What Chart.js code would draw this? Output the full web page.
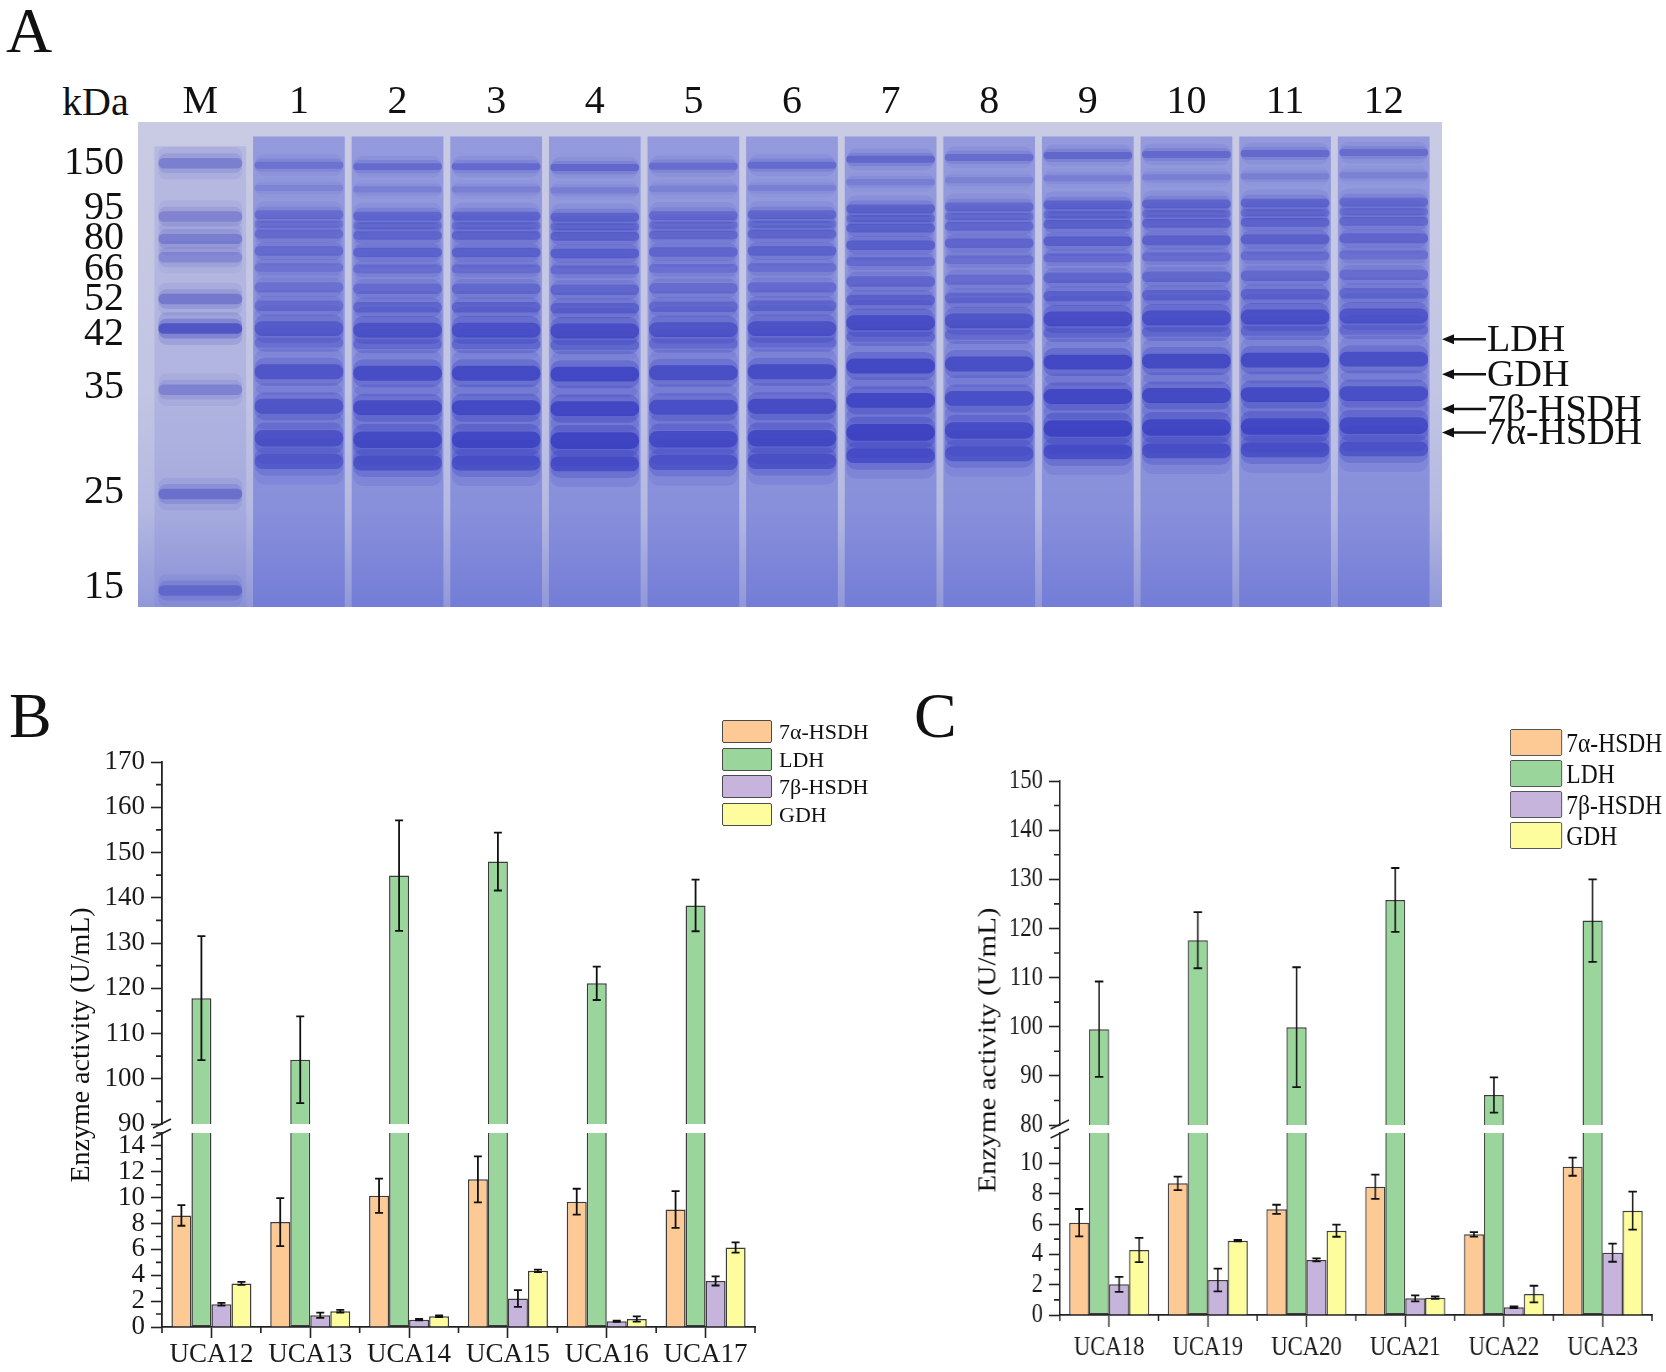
<!DOCTYPE html>
<html>
<head>
<meta charset="utf-8">
<script src="https://cdn.jsdelivr.net/npm/chart.js@4.4.1/dist/chart.umd.min.js"></script>
<style>
  html, body { margin: 0; padding: 0; background: #fff; }
  body { width: 1666px; height: 1372px; position: relative; overflow: hidden;
         font-family: 'Liberation Serif', 'Times New Roman', serif; color: #111; }
  .abs { position: absolute; white-space: nowrap; }
  .letter { font-size: 64px; line-height: 64px; }
  .ytitle { width: 420px; height: 34px; line-height: 34px; text-align: center; transform: rotate(-90deg); }
</style>
</head>
<body>
<div class="abs letter" style="left:6px; top:-1px;">A</div>
<div class="abs" style="left:62px; top:82px; font-size:40px; line-height:40px;">kDa</div>
<div class="abs" style="left:0; top:0; width:1666px; height:650px;"><canvas id="gel" width="1666" height="650"></canvas></div>

<div class="abs letter" style="left:9px; top:684px;">B</div>
<div class="abs" style="left:0; top:680px; width:830px; height:692px;"><canvas id="chartB" width="830" height="692"></canvas></div>
<div class="abs ytitle" style="left:-130px; top:1028px; font-size:28px;">Enzyme activity (U/mL)</div>
<div id="legendB" class="abs" style="left:0; top:0;"></div>

<div class="abs letter" style="left:914px; top:684px;">C</div>
<div class="abs" style="left:880px; top:680px; width:936px; height:692px; transform:scaleX(0.84); transform-origin:0 0;">
  <canvas id="chartC" width="936" height="692"></canvas>
  <div class="abs ytitle" style="left:-83px; top:353px; font-size:29px;">Enzyme activity (U/mL)</div>
  <div id="legendC" class="abs" style="left:0; top:0;"></div>
</div>

<script>
var serif = "'Liberation Serif', 'Times New Roman', serif";

// ---- panel A : SDS-PAGE gel (migration in % of gel length, 0 = top) ----
var lanes = ['M', '1', '2', '3', '4', '5', '6', '7', '8', '9', '10', '11', '12'];
var markerKda = [150, 95, 80, 66, 52, 42, 35, 25, 15];
var markerPos = [8.5, 19.5, 24.1, 27.9, 36.5, 42.6, 55.2, 76.7, 96.6];
var markerInt = [0.45, 0.4, 0.45, 0.35, 0.5, 0.9, 0.4, 0.55, 0.5];
var kdaLabelPos = [8.5, 17.8, 24.1, 30.4, 36.7, 43.8, 54.8, 76.3, 96.0];
var bandPos = [8.9, 13.6, 19.1, 21.1, 23.1, 26.6, 30.0, 34.1, 37.9, 42.6, 45.5, 51.5, 58.6, 65.2, 70.0];
var bandInt = [0.5, 0.25, 0.55, 0.4, 0.55, 0.6, 0.45, 0.5, 0.55, 0.85, 0.4, 0.95, 0.95, 1.0, 0.8];
var bandThk = [1.6, 1.4, 2.0, 1.6, 2.0, 2.2, 2.0, 2.4, 2.4, 3.4, 2.2, 3.4, 3.4, 3.8, 3.4];
var laneShift = [0, 0, 0.3, 0.3, 0.5, 0.2, 0, -1.2, -1.6, -2.0, -2.2, -2.4, -2.6];
var laneLoad = [1, 0.8, 0.95, 1, 1.05, 0.9, 0.95, 1.05, 0.9, 1.05, 1, 1, 0.9];
var laneSmear = [5, 3, 3, 3, 3, 3, 3, 3, 3, 3, 3, 3, 3];
var targets = ['LDH', 'GDH', '7β-HSDH', '7α-HSDH'];
var targetPos = [44.8, 52.0, 59.2, 64.0];

// ---- panels B and C : enzyme activity ----
var series = ['7α-HSDH', 'LDH', '7β-HSDH', 'GDH'];
var seriesFill = ['#fdca96', '#9ad69c', '#c7b4dd', '#fdfd9e'];

var groupsB = ['UCA12', 'UCA13', 'UCA14', 'UCA15', 'UCA16', 'UCA17'];
var alphaB = [8.63, 8.11, 10.15, 11.42, 9.69, 9.09];
var alphaErrB = [0.8, 1.85, 1.33, 1.78, 1.0, 1.42];
var ldhB = [117.8, 104.2, 144.9, 148.0, 121.1, 138.3];
var ldhErrB = [13.7, 9.6, 12.2, 6.4, 3.7, 5.7];
var betaB = [1.76, 0.91, 0.57, 2.2, 0.44, 3.56];
var betaErrB = [0.1, 0.2, 0.06, 0.65, 0.05, 0.35];
var gdhB = [3.37, 1.22, 0.83, 4.34, 0.62, 6.15];
var gdhErrB = [0.12, 0.1, 0.07, 0.1, 0.2, 0.4];
var upRangeB = [90, 170];
var lowRangeB = [0, 15];

var groupsC = ['UCA18', 'UCA19', 'UCA20', 'UCA21', 'UCA22', 'UCA23'];
var alphaC = [6.09, 8.68, 6.97, 8.46, 5.32, 9.78];
var alphaErrC = [0.9, 0.45, 0.3, 0.8, 0.15, 0.6];
var ldhC = [99.5, 117.6, 99.9, 125.8, 86.1, 121.6];
var ldhErrC = [9.7, 5.7, 12.2, 6.5, 3.6, 8.4];
var betaC = [2.02, 2.31, 3.63, 1.10, 0.51, 4.11];
var betaErrC = [0.5, 0.75, 0.1, 0.2, 0.05, 0.6];
var gdhC = [4.29, 4.90, 5.56, 1.14, 1.38, 6.88];
var gdhErrC = [0.8, 0.05, 0.4, 0.08, 0.55, 1.25];
var upRangeC = [80, 150];
var lowRangeC = [0, 12];

// ---------------- gel ----------------
var gelDatasets = [];
gelDatasets.push({
    data: lanes.map(function (l, i) { return [laneSmear[i], 100]; }),
    backgroundColor: lanes.map(function (l, i) { return i === 0 ? 'rgba(120,125,215,0.22)' : 'rgba(80,90,212,0.44)'; }),
    barPercentage: 0.93, categoryPercentage: 1, grouped: false
});
// soft halo, mid layer, dense core of every band
[[2.8, 0.16], [1.7, 0.3], [0.9, 0.66]].forEach(function (layer) {
    markerPos.forEach(function (p, b) {
        var h = 1.2 * layer[0];
        gelDatasets.push({
            data: lanes.map(function (l, i) { return i === 0 ? [p - h, p + h] : null; }),
            backgroundColor: 'rgba(30,35,180,' + (markerInt[b] * layer[1]).toFixed(3) + ')',
            barPercentage: 0.85, categoryPercentage: 1, grouped: false, borderRadius: 8, borderSkipped: false
        });
    });
    bandPos.forEach(function (p, b) {
        var h = bandThk[b] * layer[0] / 2;
        gelDatasets.push({
            data: lanes.map(function (l, i) { return i === 0 ? null : [p + laneShift[i] - h, p + laneShift[i] + h]; }),
            backgroundColor: lanes.map(function (l, i) {
                return 'rgba(22,24,172,' + Math.min(1, bandInt[b] * laneLoad[i] * layer[1]).toFixed(3) + ')';
            }),
            barPercentage: 0.9, categoryPercentage: 1, grouped: false, borderRadius: 10, borderSkipped: false
        });
    });
});

var gelEdge = [13, 9];
var gelDecor = {
    id: 'gelDecor',
    beforeDatasetsDraw: function (chart) {
        var ctx = chart.ctx, a = chart.chartArea;
        var g = ctx.createLinearGradient(0, a.top, 0, a.bottom);
        g.addColorStop(0, '#c9cbe3');
        g.addColorStop(0.55, '#c2c5e3');
        g.addColorStop(0.8, '#b4b9e1');
        g.addColorStop(1, '#9198d9');
        ctx.fillStyle = g;
        ctx.fillRect(a.left - gelEdge[0], a.top, a.right - a.left + gelEdge[0] + gelEdge[1], a.bottom - a.top);
    },
    afterDatasetsDraw: function (chart) {
        var ctx = chart.ctx, a = chart.chartArea, y = chart.scales.y;
        var x0 = a.right + gelEdge[1];
        ctx.save();
        ctx.strokeStyle = '#111';
        ctx.fillStyle = '#111';
        ctx.lineWidth = 2.5;
        ctx.font = '38px ' + serif;
        ctx.textBaseline = 'middle';
        targets.forEach(function (t, i) {
            var py = y.getPixelForValue(targetPos[i]);
            ctx.beginPath();
            ctx.moveTo(x0 + 8, py);
            ctx.lineTo(x0 + 44, py);
            ctx.stroke();
            ctx.beginPath();
            ctx.moveTo(x0, py);
            ctx.lineTo(x0 + 12, py - 5);
            ctx.lineTo(x0 + 12, py + 5);
            ctx.closePath();
            ctx.fill();
            ctx.fillText(t, x0 + 45, py + 2);
        });
        ctx.restore();
    }
};

new Chart(document.getElementById('gel'), {
    type: 'bar',
    data: { labels: lanes, datasets: gelDatasets },
    options: {
        responsive: false, animation: false, events: [],
        layout: { padding: { left: 0, right: 233, top: 0, bottom: 35 } },
        plugins: { legend: { display: false }, tooltip: { enabled: false } },
        scales: {
            x: {
                position: 'top', offset: true,
                grid: { display: false }, border: { display: false },
                ticks: { font: { family: serif, size: 40, lineHeight: 0.58 }, color: '#111', padding: 0, autoSkip: false, maxRotation: 0 },
                afterFit: function (s) { s.height = 122; }
            },
            y: {
                reverse: true, min: 0, max: 100, stacked: false,
                grid: { display: false }, border: { display: false },
                afterBuildTicks: function (s) { s.ticks = kdaLabelPos.map(function (v) { return { value: v }; }); },
                ticks: {
                    autoSkip: false, font: { family: serif, size: 40 }, color: '#111', padding: 19,
                    callback: function (v, i) { return markerKda[i]; }
                },
                afterFit: function (s) { s.width = 151; }
            }
        }
    },
    plugins: [gelDecor]
});

// ---------------- broken-axis bar charts ----------------
var errorBars = {
    id: 'errorBars',
    afterDatasetsDraw: function (chart, args, o) {
        var ctx = chart.ctx;
        ctx.save();
        ctx.strokeStyle = '#111';
        ctx.lineWidth = 1.8;
        chart.data.datasets.forEach(function (ds, i) {
            if (!ds.errs) return;
            var meta = chart.getDatasetMeta(i);
            var sc = chart.scales[ds.yAxisID];
            meta.data.forEach(function (bar, j) {
                var v = ds.vals[j], e = ds.errs[j];
                var y1 = sc.getPixelForValue(v + e), y2 = sc.getPixelForValue(Math.max(v - e, sc.min));
                ctx.beginPath();
                ctx.moveTo(bar.x, y1); ctx.lineTo(bar.x, y2);
                ctx.moveTo(bar.x - o.cap, y1); ctx.lineTo(bar.x + o.cap, y1);
                ctx.moveTo(bar.x - o.cap, y2); ctx.lineTo(bar.x + o.cap, y2);
                ctx.stroke();
            });
        });
        ctx.restore();
    }
};

var axisDecor = {
    id: 'axisDecor',
    afterDraw: function (chart, args, o) {
        var ctx = chart.ctx, a = chart.chartArea;
        var up = chart.scales.yUp, low = chart.scales.yLow, x = chart.scales.x;
        ctx.save();
        ctx.strokeStyle = '#222';
        ctx.lineWidth = 1.6;
        ctx.beginPath();
        [[up, o.upStep], [low, o.lowStep]].forEach(function (p) {
            for (var v = p[0].min + p[1] / 2; v <= p[0].max + 1e-6; v += p[1]) {
                var y = p[0].getPixelForValue(v);
                ctx.moveTo(a.left - o.minorTick, y);
                ctx.lineTo(a.left, y);
            }
        });
        var half = (x.getPixelForValue(1) - x.getPixelForValue(0)) / 2;
        for (var i = 0; i <= chart.data.labels.length; i++) {
            var px = x.getPixelForValue(0) - half + i * 2 * half;
            ctx.moveTo(px, a.bottom);
            ctx.lineTo(px, a.bottom + 6);
        }
        ctx.stroke();
        // axis break marks
        var yb = up.bottom, yt = low.top;
        ctx.lineWidth = 1.8;
        ctx.beginPath();
        ctx.moveTo(a.left - o.breakW, yb + 4); ctx.lineTo(a.left + o.breakW, yb - 5);
        ctx.moveTo(a.left - o.breakW, yt + 5); ctx.lineTo(a.left + o.breakW, yt - 4);
        ctx.stroke();
        ctx.restore();
    }
};

function brokenBarChart(id, c) {
    var lowTop = c.lowRange[1];
    var datasets = [];
    c.values.forEach(function (vals, s) {
        var base = {
            label: series[s], backgroundColor: seriesFill[s], borderColor: '#3c3c3c', borderWidth: 1.5,
            stack: 's' + s
        };
        if (s === 1) {
            datasets.push(Object.assign({}, base, {
                yAxisID: 'yLow', borderSkipped: 'top',
                data: vals.map(function (v) { return Math.min(v, lowTop); })
            }));
            datasets.push(Object.assign({}, base, {
                yAxisID: 'yUp', vals: vals, errs: c.errors[s],
                data: vals.map(function (v) { return [c.upRange[0], v]; })
            }));
        } else {
            datasets.push(Object.assign({}, base, { yAxisID: 'yLow', data: vals, vals: vals, errs: c.errors[s] }));
        }
    });

    var tickFont = { family: serif, size: c.font };
    function yAxis(range, step, weight, order, labelMax) {
        return {
            type: 'linear', position: 'left', stack: 'v', stackWeight: weight, weight: order,
            min: range[0], max: range[1], stacked: false,
            ticks: {
                stepSize: step, includeBounds: false, autoSkip: false, font: tickFont, color: '#1a1a1a', padding: c.tickPad,
                callback: function (v) { return v <= labelMax ? v : ''; }
            },
            grid: {
                drawOnChartArea: false, drawTicks: true, tickLength: c.tick, tickWidth: 1.6,
                tickColor: function (ctx) { return ctx.tick && ctx.tick.value > labelMax ? 'rgba(0,0,0,0)' : '#222'; }
            },
            border: { display: true, color: '#222', width: 1.8 },
            afterFit: function (s) { s.width = c.axisW; }
        };
    }

    return new Chart(document.getElementById(id), {
        type: 'bar',
        data: { labels: c.groups, datasets: datasets },
        options: {
            responsive: false, animation: false, events: [],
            categoryPercentage: 0.81, barPercentage: 1,
            layout: { padding: { left: 0, right: c.pad.right, top: c.pad.top, bottom: 0 } },
            plugins: {
                legend: { display: false }, tooltip: { enabled: false },
                errorBars: { cap: c.cap },
                axisDecor: { upStep: c.upStep, lowStep: c.lowStep, minorTick: c.minorTick, breakW: c.breakW }
            },
            scales: {
                x: {
                    type: 'category', offset: true,
                    grid: { offset: false, drawOnChartArea: false, drawTicks: true, tickLength: c.xTick, tickWidth: 1.6, tickColor: '#222' },
                    border: { display: true, color: '#222', width: 1.8 },
                    ticks: { font: tickFont, color: '#1a1a1a', padding: c.xPad, maxRotation: 0, autoSkip: false },
                    afterFit: function (s) { s.height = c.xH; }
                },
                yUp: yAxis(c.upRange, c.upStep, c.weights[0], 3, c.upRange[1]),
                yGap: {
                    type: 'linear', position: 'left', stack: 'v', stackWeight: c.weights[1], weight: 2,
                    min: 0, max: 1, stacked: false,
                    ticks: { display: false }, grid: { display: false, drawTicks: false }, border: { display: false },
                    afterFit: function (s) { s.width = c.axisW; }
                },
                yLow: yAxis(c.lowRange, c.lowStep, c.weights[2], 1, c.lowLabelMax)
            }
        },
        plugins: [errorBars, axisDecor]
    });
}

brokenBarChart('chartB', {
    groups: groupsB, values: [alphaB, ldhB, betaB, gdhB], errors: [alphaErrB, ldhErrB, betaErrB, gdhErrB],
    upRange: upRangeB, upStep: 10, lowRange: lowRangeB, lowStep: 2, lowLabelMax: 14,
    weights: [362, 9, 194], axisW: 162, xH: 45, pad: { top: 82, right: 75 },
    font: 27, tick: 11, xTick: 11, xPad: 1, tickPad: 6, minorTick: 6, cap: 4, breakW: 9
});

brokenBarChart('chartC', {
    groups: groupsC, values: [alphaC, ldhC, betaC, gdhC], errors: [alphaErrC, ldhErrC, betaErrC, gdhErrC],
    upRange: upRangeC, upStep: 10, lowRange: lowRangeC, lowStep: 2, lowLabelMax: 10,
    weights: [344, 8, 182], axisW: 214, xH: 57, pad: { top: 101, right: 17 },
    font: 27, tick: 13, xTick: 12, xPad: 5, tickPad: 7, minorTick: 7, cap: 5, breakW: 11
});

// legends
function buildLegend(el, o) {
    series.forEach(function (name, i) {
        var row = document.createElement('div');
        row.className = 'abs';
        row.style.left = o.x + 'px';
        row.style.top = (o.y + i * o.pitch) + 'px';
        row.innerHTML =
            '<div style="position:absolute;left:0;top:0;width:' + o.w + 'px;height:' + o.h + 'px;background:' + seriesFill[i] +
            ';border:1.5px solid #4a4a4a;border-radius:2px;box-sizing:border-box"></div>' +
            '<div style="position:absolute;left:' + o.tx + 'px;top:0;height:' + o.h + 'px;line-height:' + o.h +
            'px;font-size:' + o.fs + 'px;white-space:nowrap">' + name + '</div>';
        el.appendChild(row);
    });
}
buildLegend(document.getElementById('legendB'), { x: 722, y: 720, pitch: 27.7, w: 50, h: 23, tx: 57, fs: 22 });
buildLegend(document.getElementById('legendC'), { x: 750, y: 49, pitch: 31, w: 62, h: 27, tx: 67, fs: 28 });
</script>
</body>
</html>
